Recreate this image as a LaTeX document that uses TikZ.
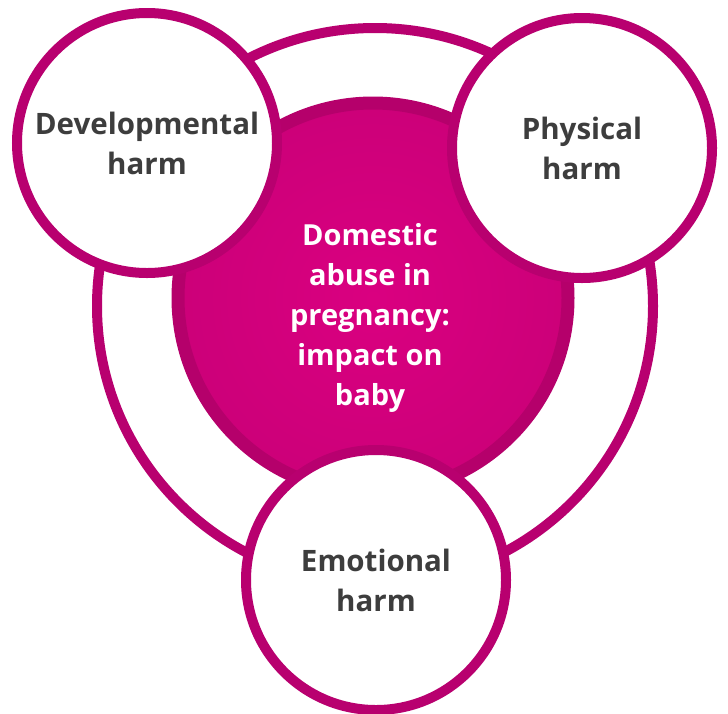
\documentclass[tikz,border=0pt]{standalone}
\usepackage{fontspec}
\setmainfont{Open Sans}
\begin{document}
\begin{tikzpicture}[x=1pt,y=1pt,
  ringc/.style={draw=rim, line width=10pt},
  harm/.style={circle, draw=rim, line width=10pt, fill=white, minimum size=260pt, inner sep=0pt,
    text=txt, align=center, font=\fontsize{29.5}{40}\selectfont\bfseries},
  core/.style={circle, draw=coreedge, line width=13pt, inner color=corein, outer color=coreout,
    minimum size=390pt, inner sep=0pt},
  coretext/.style={text=white, align=center, font=\fontsize{29}{40}\selectfont\bfseries}]
\definecolor{rim}{HTML}{B8006F}
\definecolor{coreedge}{HTML}{B5006B}
\definecolor{corein}{HTML}{DA0080}
\definecolor{coreout}{HTML}{CC0079}
\definecolor{txt}{HTML}{3D3D3D}
\useasboundingbox (0,0) rectangle (728,-713);
\fill[white] (0,0) rectangle (728,-713);
\node[circle, ringc, minimum size=556pt, inner sep=0pt] (ring) at (375,-306) {};
\node[core] (core) at (373,-298) {};
\node[coretext] (coretxt) at (370,-318) {Domestic\\abuse in\\pregnancy:\\impact on\\baby};
\node[harm] (dev) at (147,-143) {Developmental\\harm};
\node[harm] (phys) at (582,-148) {Physical\\harm};
\node[harm] (emo) at (376,-580) {Emotional\\harm};
\end{tikzpicture}
\end{document}
